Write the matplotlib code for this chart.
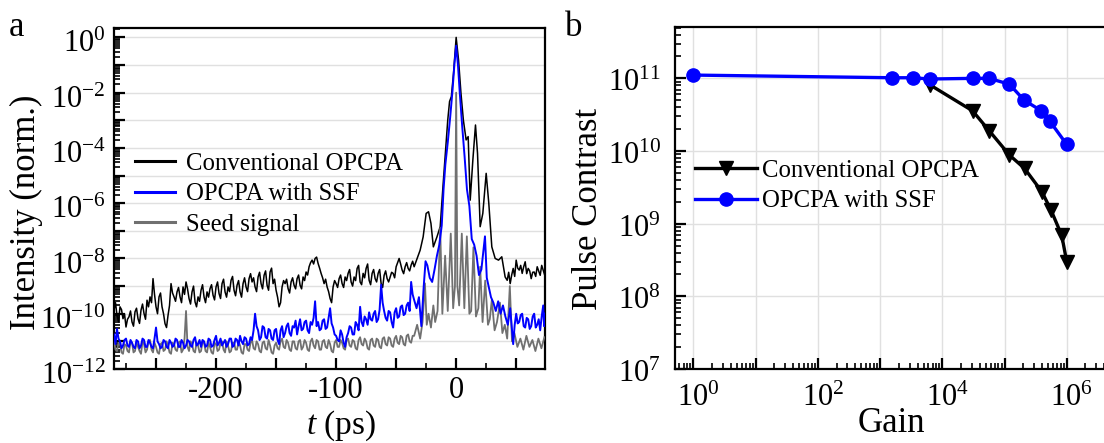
import numpy as np
import matplotlib
matplotlib.use('Agg')
import matplotlib.pyplot as plt
import matplotlib.transforms as mtransforms
from matplotlib.lines import Line2D
from matplotlib.ticker import LogLocator, FuncFormatter, NullFormatter, MultipleLocator

plt.rcParams['font.family'] = ['Liberation Serif', 'DejaVu Serif']
plt.rcParams['mathtext.fontset'] = 'custom'
plt.rcParams['mathtext.rm'] = 'Liberation Serif'
plt.rcParams['mathtext.it'] = 'Liberation Serif:italic'
plt.rcParams['axes.unicode_minus'] = False

# ---------------- panel a data (time in ps, log10 of normalized intensity) ----------------
t_background = np.arange(-285, -36, 2.5)          # sampling of the far pedestal region
t_between = t_background + 1.25                   # readings taken between those samples

conv_bg_log = [
    -9.87, -10.06, -9.75, -10.18, -10.48, -10.11, -10.30, -9.93, -10.18, -9.87,
    -9.99, -9.51, -9.39, -8.73, -9.75, -9.39, -9.75, -10.36, -10.06, -8.91,
    -9.39, -9.21, -9.39, -9.03, -8.85, -9.45, -9.21, -9.57, -9.39, -9.15,
    -9.39, -9.21, -9.09, -9.33, -9.03, -9.27, -8.91, -9.21, -9.03, -8.79,
    -9.15, -8.97, -9.21, -8.91, -9.03, -8.73, -8.85, -9.03, -8.67, -8.91,
    -8.61, -8.97, -8.49, -8.91, -9.15, -9.75, -9.03, -8.91, -9.09, -8.85,
    -8.97, -8.73, -8.97, -8.67, -8.49, -8.30, -8.06, -8.00, -8.18, -8.54,
    -8.91, -9.03, -9.45, -9.03, -8.91, -8.73, -8.91, -8.67, -8.54, -8.85,
    -8.67, -8.36, -8.85, -8.54, -8.36, -8.79, -8.54, -8.73, -8.54, -8.91,
    -8.61, -8.73, -8.67, -8.54, -8.30, -8.00, -8.42, -8.30, -8.36, -8.24]
conv_between_log = [
    -9.6, -10.3, -9.85, -10.0, -10.2, -9.9, -10.45, -9.8, -10.35, -9.65,
    -10.2, -9.75, -9.6, -9.3, -10.0, -9.25, -10.0, -10.5, -9.7, -9.25,
    -9.55, -9.05, -9.6, -9.3, -9.1, -9.65, -9.0, -9.75, -9.55, -8.95,
    -9.6, -9.4, -8.95, -9.5, -8.85, -9.45, -8.75, -9.4, -9.2, -8.65,
    -9.35, -8.8, -9.4, -8.7, -9.2, -8.55, -8.7, -9.2, -8.5, -9.1,
    -8.45, -9.15, -8.35, -8.75, -9.4, -9.6, -8.8, -8.75, -9.25, -8.7,
    -9.1, -8.6, -9.1, -8.8, -8.6, -8.15, -8.2, -7.95, -8.35, -8.7,
    -8.75, -9.2, -9.6, -8.8, -9.05, -8.6, -9.05, -8.8, -8.4, -9.0,
    -8.8, -8.25, -8.95, -8.7, -8.2, -8.95, -8.4, -8.85, -8.4, -9.05,
    -8.45, -8.85, -8.5, -8.7, -8.15, -8.2, -8.55, -8.15, -8.45, -8.1]
conv_peak_t = [-35, -32.5, -30, -27.5, -25, -23, -21, -19, -16, -13.3, -11, -9, -7, -5.5, -4,
               -2.2, 0, 2, 4, 6, 8.3, 10, 11.7, 13.9, 16.1, 17.8, 20, 22.2, 25, 27.2, 29.7,
               32.5, 35.3, 38, 40.8, 42.5, 45, 47.5, 50, 52.5, 55, 57.5, 60, 62.5, 65, 67.5,
               70, 72.5, 74,
               43.75, 46.25, 48.75, 51.25, 53.75, 56.25, 58.75, 61.25, 63.75, 66.25, 68.75,
               71.25, 73.75]
conv_peak_log = [-8.30, -8.00, -7.70, -7.22, -6.37, -6.31, -6.73, -7.58, -7.22, -6.85, -5.40,
                 -4.20, -2.99, -2.32, -2.14, -1.30, 0.0, -0.82, -2.02, -2.99, -3.71, -3.59,
                 -5.89, -4.44, -3.17, -4.20, -6.85, -6.37, -4.92, -6.01, -7.58, -8.00, -8.06,
                 -7.94, -8.67, -8.79, -8.91, -8.36, -8.06, -8.42, -8.54, -8.12, -8.36, -8.73,
                 -8.49, -8.30, -8.61, -8.42, -8.54,
                 -8.5, -8.6, -8.65, -8.35, -8.25, -8.3, -8.55, -8.45, -8.5, -8.65, -8.45,
                 -8.25, -8.6]

ssf_bg_log = [
    -10.75, -10.55, -11.0, -11.15, -10.9, -11.2, -11.05, -11.25, -11.0, -11.15,
    -10.95, -11.2, -11.05, -11.25, -10.5, -11.1, -11.2, -11.0, -11.25, -11.05,
    -11.15, -10.95, -11.2, -11.05, -11.15, -11.0, -11.2, -10.85, -11.1, -11.2,
    -11.0, -11.15, -10.95, -11.15, -10.8, -11.05, -11.15, -10.95, -11.1, -10.9,
    -11.15, -10.95, -10.8, -11.1, -10.9, -11.1, -10.95, -10.0, -10.6, -10.85,
    -10.5, -10.9, -10.6, -10.95, -10.55, -11.1, -10.45, -10.7, -10.35, -10.8,
    -10.5, -10.75, -10.2, -10.55, -10.25, -10.7, -10.4, -9.55, -10.3, -10.55,
    -10.2, -10.5, -9.8, -10.5, -10.8, -11.0, -10.75, -11.2, -10.7, -10.5,
    -10.75, -10.4, -9.75, -10.45, -10.2, -9.95, -10.25, -9.9, -10.2, -8.95,
    -9.9, -10.25, -9.95, -10.5, -9.8, -10.1, -9.7, -10.0, -9.6, -8.85]
ssf_between_log = [
    -11.1, -10.9, -11.25, -10.95, -11.15, -10.95, -11.2, -10.95, -11.25, -10.9,
    -11.2, -10.95, -11.2, -10.9, -11.0, -11.25, -10.95, -11.2, -10.95, -11.2,
    -10.9, -11.2, -10.95, -11.25, -10.95, -11.15, -10.95, -11.15, -10.95, -10.95,
    -11.2, -10.9, -11.2, -10.95, -11.15, -10.9, -11.05, -11.2, -10.9, -11.2,
    -10.9, -11.15, -11.0, -10.85, -11.15, -10.85, -10.6, -10.45, -10.95, -10.45,
    -10.85, -10.55, -10.9, -10.6, -10.95, -10.6, -10.85, -10.45, -10.7, -10.45,
    -10.25, -10.45, -10.6, -10.3, -10.6, -10.3, -10.15, -10.45, -10.6, -10.25,
    -10.55, -10.15, -10.35, -10.75, -10.95, -10.6, -11.05, -10.85, -10.45, -10.75,
    -10.3, -10.6, -10.3, -10.1, -10.4, -10.2, -10.0, -10.3, -9.85, -9.6,
    -10.15, -9.9, -10.3, -9.95, -10.15, -9.75, -10.05, -9.7, -9.9, -9.3]
ssf_peak_t = [-35, -33, -31, -29, -27, -25.5, -24, -22, -20, -18, -16, -14, -12, -10.5, -9, -7,
              -5, -3, -1.5, 0, 1.5, 3, 5, 7, 9, 11, 13, 15, 17, 19, 21, 24, 25.5, 27, 29, 31,
              33, 35, 37, 39, 41, 43, 45, 47.5, 50, 52.5, 55, 57.5, 60, 62.5, 65, 67.5, 70,
              72.5, 74,
              48.75, 51.25, 53.75, 56.25, 58.75, 61.25, 63.75, 66.25, 68.75, 71.25, 73.25]
ssf_peak_log = [-9.5, -9.8, -9.4, -10.45, -9.0, -8.1, -8.25, -8.7, -8.85, -8.4, -7.9, -7.5,
                -6.8, -5.5, -4.6, -3.8, -2.9, -1.9, -1.0, -0.3, -1.0, -2.0, -3.2, -4.3, -5.5,
                -6.1, -7.3, -7.5, -7.9, -8.6, -8.4, -7.2, -8.7, -9.0, -9.4, -9.6, -9.9, -9.55,
                -10.0, -9.7, -10.1, -10.4, -9.8, -11.1, -10.0, -10.3, -10.0, -10.5, -10.2,
                -10.45, -10.0, -10.4, -10.6, -9.7, -10.0,
                -10.4, -10.35, -10.05, -10.45, -10.15, -10.55, -10.1, -10.5, -10.2, -10.1,
                -10.45]

seed_bg_log = [
    -11.0, -11.35, -11.1, -11.45, -11.15, -11.4, -11.05, -11.35, -11.2, -11.45,
    -11.1, -11.3, -10.95, -11.4, -11.2, -11.45, -11.05, -11.3, -11.15, -11.45,
    -11.1, -11.35, -11.0, -11.3, -9.9, -11.35, -11.1, -11.4, -11.15, -11.35,
    -11.05, -11.4, -11.2, -11.45, -11.1, -11.3, -11.0, -11.4, -11.15, -11.35,
    -11.05, -11.3, -11.15, -11.45, -11.1, -11.35, -10.95, -11.3, -11.1, -11.4,
    -11.0, -11.3, -11.15, -11.45, -11.05, -11.3, -10.9, -11.25, -11.05, -11.35,
    -11.0, -11.3, -10.95, -11.2, -11.05, -11.35, -10.9, -11.25, -11.0, -11.3,
    -10.95, -11.25, -11.1, -11.4, -10.95, -11.2, -11.05, -11.3, -10.9, -11.2,
    -11.0, -11.3, -10.85, -11.15, -11.0, -11.3, -10.9, -11.2, -10.95, -11.25,
    -10.85, -11.15, -10.9, -11.2, -10.8, -11.1, -10.85, -11.15, -10.75, -11.05]
seed_between_log = [
    -11.3, -11.05, -11.4, -11.1, -11.35, -11.0, -11.4, -11.05, -11.35, -11.0,
    -11.4, -11.0, -11.3, -11.05, -11.4, -11.1, -11.35, -11.0, -11.4, -11.05,
    -11.3, -11.05, -11.4, -10.9, -11.2, -11.0, -11.35, -11.05, -11.4, -11.0,
    -11.35, -11.05, -11.4, -11.05, -11.35, -11.05, -11.3, -11.0, -11.4, -11.05,
    -11.3, -11.0, -11.4, -11.1, -11.3, -11.05, -11.25, -11.0, -11.35, -11.05,
    -11.25, -10.95, -11.4, -11.15, -11.25, -11.0, -11.2, -10.95, -11.3, -11.0,
    -11.25, -11.0, -11.3, -10.95, -11.3, -11.0, -11.15, -10.95, -11.3, -11.0,
    -11.2, -10.95, -11.35, -11.05, -11.2, -10.95, -11.25, -10.95, -11.15, -10.95,
    -11.25, -10.95, -11.1, -10.9, -11.25, -10.95, -11.15, -10.9, -11.2, -10.9,
    -11.1, -10.85, -11.15, -10.9, -11.05, -10.8, -11.1, -10.8, -11.0, -10.8]
seed_peak_t = [-35, -32.5, -30, -28, -26, -24.5, -23, -21, -19, -17.5, -15.5, -13.3, -11.5,
               -9.2, -7, -4.5, -2.5, -1, 0, 1, 2.5, 4.7, 6.8, 8.9, 11, 12.5, 14.4, 16.5, 18.5,
               20, 22, 24.2, 26.5, 28, 29.7, 32, 34, 36.5, 38.5, 40.5, 42.5, 44.7, 46.5, 48.5,
               51, 53.5, 56, 58.5, 61, 63.5, 66, 68.5, 71, 73.5]
seed_peak_log = [-10.8, -10.4, -10.9, -10.3, -8.9, -10.4, -10.0, -10.5, -9.7, -10.3, -9.9, -6.9,
                 -10.0, -7.9, -9.9, -7.1, -9.8, -9.0, -2.0, -9.0, -9.7, -7.1, -9.8, -7.2, -10.0,
                 -9.9, -7.6, -10.1, -9.8, -8.3, -10.3, -8.8, -10.4, -10.2, -9.5, -10.6, -10.3,
                 -9.6, -10.7, -10.4, -10.9, -9.0, -11.0, -10.7, -11.2, -10.9, -11.3, -10.8,
                 -11.2, -10.95, -11.35, -10.9, -11.25, -10.85]

series_a_labels = ['Conventional OPCPA', 'OPCPA with SSF', 'Seed signal']
time_ticks = [-200, -100, 0]

# ---------------- panel b data ----------------
gain_conv = [6.4e3, 3.06e4, 5.68e4, 1.2e5, 2.1e5, 4.0e5, 5.6e5, 8.3e5, 1.0e6]
contrast_conv = [8.1e10, 3.58e10, 1.9e10, 8.8e9, 5.75e9, 2.74e9, 1.53e9, 6.9e8, 2.98e8]
gain_ssf = [1.0, 1.55e3, 3.37e3, 6.24e3, 3.06e4, 5.68e4, 1.2e5, 2.07e5, 3.9e5, 5.3e5, 1.0e6]
contrast_ssf = [1.11e11, 1.02e11, 1.02e11, 0.98e11, 1.0e11, 1.0e11, 8.3e10, 5.0e10, 3.58e10,
                2.6e10, 1.23e10]
series_b_labels = ['Conventional OPCPA', 'OPCPA with SSF']


def assemble(bg, between, peak_t, peak_v):
    t = np.concatenate([t_background, t_between, peak_t])
    v = np.concatenate([bg, between, peak_v])
    order = np.argsort(t, kind='stable')
    return t[order], 10 ** v[order]


# ---------------- figure ----------------
W, H = 1104, 443
fig = plt.figure(figsize=(W / 100, H / 100), dpi=100)


def frac(l, t, r, b):
    return [l / W, 1 - b / H, (r - l) / W, (b - t) / H]


axa = fig.add_axes(frac(114, 28, 545, 369))
axb = fig.add_axes(frac(675, 27, 1129, 369))

BLUE = '#0000ff'
GREY = '#707070'
TICK_FS = 22
LAB_FS = 25
LEG_FS = 17.8

# ---- panel a ----
tc, yc = assemble(conv_bg_log, conv_between_log, conv_peak_t, conv_peak_log)
ts, ys = assemble(ssf_bg_log, ssf_between_log, ssf_peak_t, ssf_peak_log)
tg, yg = assemble(seed_bg_log, seed_between_log, seed_peak_t, seed_peak_log)
axa.plot(tc, yc, color='black', lw=1.1, zorder=3)
axa.plot(tg, yg, color=GREY, lw=1.3, zorder=4)
axa.plot(ts, ys, color=BLUE, lw=1.4, zorder=5)
axa.set_yscale('log')
axa.set_xlim(-285, 74)
axa.set_ylim(1e-12, 10 ** 0.34)

axa.yaxis.set_major_locator(LogLocator(base=10, numticks=30))
axa.yaxis.set_minor_locator(LogLocator(base=10, subs=np.arange(2, 10), numticks=300))
axa.yaxis.set_minor_formatter(NullFormatter())
axa.yaxis.set_major_formatter(FuncFormatter(
    lambda v, p: (r'$\mathregular{10^{%d}}$' % round(np.log10(v))) if round(np.log10(v)) % 2 == 0 else ''))
axa.xaxis.set_major_locator(MultipleLocator(50))
axa.xaxis.set_minor_locator(MultipleLocator(25))
axa.xaxis.set_major_formatter(FuncFormatter(
    lambda v, p: ('%d' % v) if int(round(v)) in time_ticks else ''))
axa.grid(True, axis='y', which='major', color='#e0e0e0', lw=1.0, zorder=0)
axa.set_axisbelow(True)
axa.tick_params(axis='both', which='both', direction='in', top=False, right=False, labelsize=TICK_FS)
axa.tick_params(axis='both', which='major', length=8, width=1.6)
axa.tick_params(axis='both', which='minor', length=4.5, width=1.2)
axa.tick_params(axis='y', which='major', pad=6)
axa.tick_params(axis='x', which='major', pad=5)
for s in axa.spines.values():
    s.set_linewidth(1.6)

axa.set_ylabel('Intensity (norm.)', fontsize=LAB_FS)
axa.yaxis.set_label_coords(-0.202, 0.459)
axa.yaxis.label.set(va='center', ha='center')
axa.set_xlabel(r'$\mathit{t}\ \mathregular{(ps)}$', fontsize=24)
axa.xaxis.set_label_coords(0.527, -0.166)
axa.xaxis.label.set(va='center', ha='center')

handles_a = [Line2D([], [], color='black', lw=2.2),
             Line2D([], [], color=BLUE, lw=2.2),
             Line2D([], [], color=GREY, lw=2.2)]
axa.legend(handles_a, series_a_labels, loc='upper left', bbox_to_anchor=(0.049, 0.635),
           frameon=False, fontsize=LEG_FS, handlelength=1.6, handletextpad=0.45,
           labelspacing=0.33, borderpad=0, borderaxespad=0)

# ---- panel b ----
axb.plot(gain_conv, contrast_conv, color='black', lw=2.4, marker='v', ms=10, zorder=3)
axb.plot(gain_ssf, contrast_ssf, color=BLUE, lw=2.4, marker='o', ms=9.5, zorder=4)
axb.set_xscale('log')
axb.set_yscale('log')
axb.set_xlim(10 ** -0.294, 1e7)
axb.set_ylim(1e7, 10 ** 11.707)
axb.xaxis.set_major_locator(LogLocator(base=10, numticks=30))
axb.xaxis.set_minor_locator(LogLocator(base=10, subs=np.arange(2, 10), numticks=300))
axb.xaxis.set_minor_formatter(NullFormatter())
axb.xaxis.set_major_formatter(FuncFormatter(
    lambda v, p: (r'$\mathregular{10^{%d}}$' % round(np.log10(v))) if round(np.log10(v)) % 2 == 0 else ''))
axb.yaxis.set_major_locator(LogLocator(base=10, numticks=30))
axb.yaxis.set_minor_locator(LogLocator(base=10, subs=np.arange(2, 10), numticks=300))
axb.yaxis.set_minor_formatter(NullFormatter())
axb.yaxis.set_major_formatter(FuncFormatter(
    lambda v, p: r'$\mathregular{10^{%d}}$' % round(np.log10(v))))
axb.grid(True, which='major', color='#e0e0e0', lw=1.0, zorder=0)
axb.set_axisbelow(True)
axb.tick_params(axis='both', which='both', direction='in', top=False, right=False, labelsize=TICK_FS)
axb.tick_params(axis='both', which='major', length=8, width=1.6)
axb.tick_params(axis='both', which='minor', length=4.5, width=1.2)
axb.tick_params(axis='y', which='major', pad=10)
axb.tick_params(axis='x', which='major', pad=11)
for s in axb.spines.values():
    s.set_linewidth(1.6)

axb.set_ylabel('Pulse Contrast', fontsize=LAB_FS)
axb.yaxis.set_label_coords(-0.19, 0.468)
axb.yaxis.label.set(va='center', ha='center')
axb.set_xlabel('Gain', fontsize=LAB_FS)
axb.xaxis.set_label_coords(0.4775, -0.16)
axb.xaxis.label.set(va='center', ha='center')

handles_b = [Line2D([], [], color='black', lw=2.4, marker='v', ms=10),
             Line2D([], [], color=BLUE, lw=2.4, marker='o', ms=9.5)]
axb.legend(handles_b, series_b_labels, loc='upper left', bbox_to_anchor=(0.044, 0.612),
           frameon=False, fontsize=LEG_FS, handlelength=2.5, handletextpad=0.2,
           labelspacing=0.33, borderpad=0, borderaxespad=0)

# panel letters
fig.text(16 / W, 1 - 27 / H, 'a', fontsize=LAB_FS, ha='center', va='center')
fig.text(574 / W, 1 - 27 / H, 'b', fontsize=LAB_FS, ha='center', va='center')

# nudge power-of-ten tick labels so that the "10" sits on the tick as in the original
fig.canvas.draw()


def nudge(ticks, dx_px, dy_px):
    off = mtransforms.ScaledTranslation(dx_px / 100, dy_px / 100, fig.dpi_scale_trans)
    for tk in ticks:
        tk.label1.set_transform(tk.label1.get_transform() + off)


nudge(axb.xaxis.get_major_ticks(), 5, 0)
nudge(axa.yaxis.get_major_ticks(), 0, -4)
nudge(axb.yaxis.get_major_ticks(), 0, -2)

fig.savefig('out.png', dpi=100)
